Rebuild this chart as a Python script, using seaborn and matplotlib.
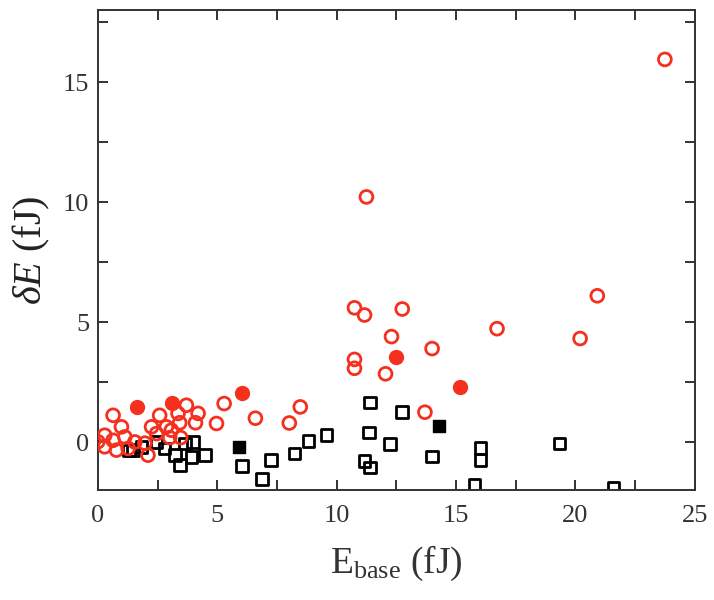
import matplotlib
matplotlib.use("Agg")
import matplotlib.pyplot as plt
import seaborn as sns

# red open circles
oc_x = [0.0, 0.29, 0.29, 0.64, 0.64, 0.78, 0.99, 1.13, 1.27, 1.55, 1.97, 2.1, 2.25, 2.46,
        2.59, 2.87, 3.08, 3.01, 3.47, 3.36, 3.43, 3.71, 4.09, 4.2, 4.97, 5.29, 6.6, 8.02,
        8.48, 10.75, 11.17, 12.75, 12.3, 14.0, 10.75, 10.75, 12.05, 13.7, 16.72, 20.2,
        20.92, 11.25, 23.75]
oc_y = [0.02, 0.29, -0.19, 1.12, 0.08, -0.33, 0.64, 0.22, -0.26, 0.01, -0.04, -0.54, 0.64, 0.36,
        1.12, 0.64, 0.5, 0.19, 0.19, 1.2, 0.81, 1.54, 0.81, 1.2, 0.78, 1.61, 1.0, 0.8,
        1.47, 5.6, 5.3, 5.55, 4.4, 3.9, 3.45, 3.08, 2.85, 1.25, 4.73, 4.32,
        6.1, 10.22, 15.95]

# red filled circles
fc_x = [1.65, 3.1, 6.05, 12.5, 15.15]
fc_y = [1.48, 1.62, 2.07, 3.57, 2.28]

# black open squares
os_x = [1.3, 1.48, 1.83, 2.46, 2.8, 3.22, 3.64, 3.99, 3.92, 4.48, 3.43, 6.04, 6.88, 7.26,
        8.23, 8.83, 9.57, 11.17, 11.41, 11.35, 11.41, 12.25, 12.75, 14.0, 16.02, 16.02,
        15.77, 19.33, 21.6]
os_y = [-0.35, -0.33, -0.19, 0.01, -0.26, -0.54, -0.06, 0.01, -0.61, -0.54, -0.96, -0.98, -1.53, -0.75,
        -0.47, 0.05, 0.3, -0.78, -1.06, 0.4, 1.65, -0.08, 1.25, -0.6, -0.24, -0.75,
        -1.76, -0.06, -1.9]

# black filled squares
fs_x = [5.92, 14.28]
fs_y = [-0.18, 0.69]

red = "#f5301e"

sns.set_style("ticks")
plt.rcParams["font.family"] = ["Liberation Serif", "DejaVu Serif"]
plt.rcParams["mathtext.fontset"] = "custom"
plt.rcParams["mathtext.rm"] = "Liberation Serif"
plt.rcParams["mathtext.it"] = "Liberation Serif:italic"

fig = plt.figure(figsize=(7.14, 6), dpi=100)
ax = fig.add_axes([0.137, 0.183, 0.836, 0.8])

sns.scatterplot(x=os_x, y=os_y, marker="s", s=70, facecolor="none", edgecolor="black",
                linewidth=2.0, ax=ax, zorder=2)
sns.scatterplot(x=fs_x, y=fs_y, marker="s", s=70, color="black", edgecolor="black",
                linewidth=1.0, ax=ax, zorder=2)
sns.scatterplot(x=oc_x, y=oc_y, marker="o", s=85, facecolor="none", edgecolor=red,
                linewidth=2.0, ax=ax, zorder=3)
sns.scatterplot(x=fc_x, y=fc_y, marker="o", s=100, color=red, edgecolor=red,
                linewidth=1.0, ax=ax, zorder=3)

ax.set_xlim(0, 25)
ax.set_ylim(-2, 18)
ax.set_xticks([0, 5, 10, 15, 20, 25])
ax.set_xticks([2.5, 7.5, 12.5, 17.5, 22.5], minor=True)
ax.set_yticks([0, 5, 10, 15])
ax.set_yticks([-2.5 + 2.5 * i for i in range(9)][1:], minor=True)
ax.tick_params(which="both", direction="in", top=True, right=True, length=7, width=1.4,
               color="#333333", labelsize=19, labelcolor="#333333")
ax.tick_params(axis="x", pad=11)
ax.tick_params(axis="y", pad=6)
for sp in ax.spines.values():
    sp.set_linewidth(1.4)
    sp.set_color("#333333")

ax.set_xlabel(r"E$_{\mathrm{base}}$ (fJ)", fontsize=27, color="#333333", labelpad=12)
ax.set_ylabel(r"$\delta E$ (fJ)", fontsize=29, color="#222222", labelpad=8)

fig.savefig("out.png", dpi=100)
